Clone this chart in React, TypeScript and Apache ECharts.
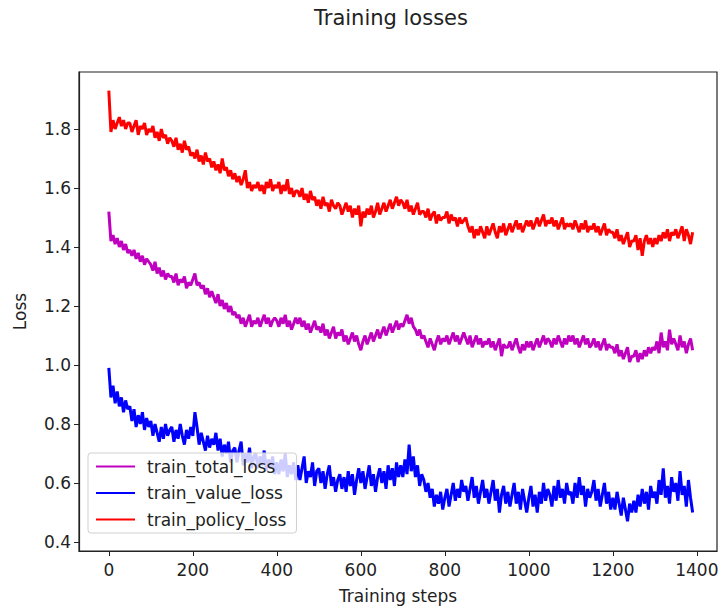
import React, { useEffect, useRef } from "react";
import * as echarts from "echarts";

// sampled every 5 training steps, starting at step 0
const STEP = 5;

const policyLoss = [
  1.93, 1.79, 1.83, 1.80, 1.82, 1.84, 1.81, 1.83, 1.80, 1.82,
  1.82, 1.79, 1.81, 1.83, 1.78, 1.81, 1.80, 1.82, 1.78, 1.80,
  1.79, 1.81, 1.77, 1.79, 1.76, 1.80, 1.77, 1.78, 1.75, 1.77,
  1.76, 1.74, 1.77, 1.73, 1.75, 1.72, 1.76, 1.73, 1.74, 1.71,
  1.72, 1.70, 1.73, 1.69, 1.71, 1.68, 1.72, 1.69, 1.70, 1.67,
  1.69, 1.66, 1.68, 1.65, 1.70, 1.66, 1.67, 1.64, 1.66, 1.63,
  1.65, 1.62, 1.64, 1.61, 1.63, 1.66, 1.60, 1.62, 1.59, 1.61,
  1.60, 1.62, 1.59, 1.61, 1.58, 1.62, 1.60, 1.63, 1.59, 1.61,
  1.60, 1.62, 1.58, 1.61, 1.59, 1.63, 1.58, 1.60, 1.57, 1.59,
  1.59, 1.57, 1.60, 1.56, 1.58, 1.55, 1.59, 1.56, 1.57, 1.54,
  1.56, 1.53, 1.57, 1.54, 1.55, 1.52, 1.56, 1.54, 1.53, 1.55,
  1.54, 1.51, 1.53, 1.55, 1.52, 1.54, 1.50, 1.53, 1.51, 1.54,
  1.47, 1.52, 1.50, 1.53, 1.51, 1.54, 1.50, 1.52, 1.55, 1.51,
  1.53, 1.55, 1.52, 1.54, 1.56, 1.53, 1.55, 1.57, 1.54, 1.56,
  1.55, 1.53, 1.56, 1.52, 1.54, 1.51, 1.53, 1.55, 1.51, 1.52,
  1.52, 1.50, 1.53, 1.49, 1.51, 1.52, 1.48, 1.51, 1.49, 1.50,
  1.50, 1.52, 1.48, 1.51, 1.49, 1.50, 1.47, 1.50, 1.48, 1.49,
  1.50, 1.47, 1.45, 1.47, 1.43, 1.46, 1.44, 1.47, 1.45, 1.43,
  1.47, 1.44, 1.46, 1.48, 1.45, 1.43, 1.47, 1.45, 1.48, 1.44,
  1.46, 1.48, 1.45, 1.47, 1.49, 1.46, 1.48, 1.45, 1.47, 1.49,
  1.47, 1.49, 1.46, 1.48, 1.50, 1.47, 1.49, 1.51, 1.47, 1.49,
  1.48, 1.50, 1.47, 1.49, 1.46, 1.48, 1.50, 1.46, 1.48, 1.47,
  1.48, 1.46, 1.49, 1.47, 1.45, 1.48, 1.46, 1.49, 1.45, 1.47,
  1.46, 1.48, 1.45, 1.47, 1.44, 1.46, 1.48, 1.44, 1.46, 1.45,
  1.45, 1.43, 1.46, 1.42, 1.44, 1.41, 1.43, 1.45, 1.40, 1.42,
  1.42, 1.44, 1.39, 1.43, 1.37, 1.42, 1.44, 1.41, 1.43, 1.40,
  1.43, 1.41, 1.44, 1.42, 1.45, 1.43, 1.46, 1.42, 1.45, 1.44,
  1.46, 1.43, 1.45, 1.47, 1.42, 1.46, 1.44, 1.41, 1.45,
];

const totalLoss = [
  1.52, 1.42, 1.44, 1.41, 1.43, 1.40, 1.42, 1.39, 1.41, 1.38,
  1.39, 1.37, 1.39, 1.36, 1.38, 1.35, 1.37, 1.34, 1.36, 1.35,
  1.34, 1.32, 1.35, 1.31, 1.33, 1.30, 1.32, 1.29, 1.31, 1.30,
  1.30, 1.28, 1.31, 1.27, 1.29, 1.28, 1.30, 1.26, 1.28, 1.27,
  1.29, 1.31, 1.27, 1.28, 1.26, 1.27, 1.24, 1.26, 1.23, 1.25,
  1.23, 1.21, 1.24, 1.20, 1.22, 1.19, 1.21, 1.18, 1.20, 1.17,
  1.18, 1.16, 1.17, 1.14, 1.16, 1.13, 1.15, 1.17, 1.13, 1.15,
  1.14, 1.16, 1.13, 1.15, 1.17, 1.14, 1.16, 1.13, 1.15, 1.16,
  1.15, 1.13, 1.16, 1.14, 1.17, 1.13, 1.15, 1.12, 1.14, 1.16,
  1.14, 1.16, 1.13, 1.15, 1.12, 1.14, 1.11, 1.13, 1.15, 1.12,
  1.13, 1.11, 1.14, 1.10, 1.12, 1.09, 1.11, 1.13, 1.09, 1.11,
  1.10, 1.12, 1.08, 1.10, 1.07, 1.09, 1.11, 1.08, 1.10, 1.07,
  1.05, 1.08, 1.10, 1.07, 1.09, 1.11, 1.08, 1.10, 1.12, 1.09,
  1.11, 1.13, 1.10, 1.12, 1.14, 1.11, 1.13, 1.15, 1.12, 1.14,
  1.13, 1.15, 1.17, 1.14, 1.16, 1.13, 1.12, 1.10, 1.12, 1.09,
  1.10, 1.08, 1.06, 1.09, 1.07, 1.05, 1.08, 1.10, 1.07, 1.09,
  1.08, 1.10, 1.07, 1.09, 1.11, 1.08, 1.10, 1.07, 1.09, 1.11,
  1.09, 1.07, 1.10, 1.06, 1.08, 1.10, 1.07, 1.09, 1.06, 1.08,
  1.07, 1.09, 1.06, 1.08, 1.05, 1.07, 1.09, 1.03, 1.07, 1.06,
  1.06, 1.08, 1.05, 1.07, 1.09, 1.06, 1.04, 1.07, 1.05, 1.08,
  1.06, 1.08, 1.05, 1.07, 1.09, 1.06, 1.08, 1.10, 1.07, 1.09,
  1.08, 1.06, 1.09, 1.07, 1.10, 1.08, 1.06, 1.09, 1.07, 1.10,
  1.08, 1.10, 1.07, 1.09, 1.06, 1.08, 1.10, 1.07, 1.09, 1.06,
  1.07, 1.09, 1.06, 1.08, 1.05, 1.07, 1.09, 1.05, 1.07, 1.06,
  1.06, 1.04, 1.07, 1.03, 1.05, 1.02, 1.04, 1.06, 1.01, 1.03,
  1.03, 1.05, 1.01, 1.04, 1.02, 1.05, 1.03, 1.06, 1.04, 1.06,
  1.05, 1.08, 1.04, 1.11, 1.06, 1.08, 1.05, 1.12, 1.07, 1.09,
  1.07, 1.05, 1.10, 1.06, 1.08, 1.04, 1.07, 1.09, 1.05,
];

const valueLoss = [
  0.99, 0.89, 0.93, 0.87, 0.91, 0.86, 0.89, 0.84, 0.88, 0.85,
  0.86, 0.81, 0.85, 0.79, 0.83, 0.80, 0.84, 0.78, 0.82, 0.79,
  0.81, 0.76, 0.80, 0.77, 0.74, 0.79, 0.75, 0.80, 0.76, 0.78,
  0.79, 0.74, 0.78, 0.75, 0.80, 0.76, 0.73, 0.78, 0.75, 0.79,
  0.76, 0.84, 0.79, 0.73, 0.77, 0.74, 0.71, 0.76, 0.72, 0.75,
  0.73, 0.77, 0.71, 0.75, 0.69, 0.73, 0.70, 0.74, 0.67, 0.71,
  0.72, 0.67, 0.71, 0.74, 0.66, 0.70, 0.67, 0.72, 0.65, 0.69,
  0.70, 0.65, 0.69, 0.66, 0.71, 0.64, 0.68, 0.65, 0.69, 0.63,
  0.67, 0.63, 0.68, 0.64, 0.70, 0.62, 0.66, 0.63, 0.67, 0.61,
  0.66, 0.61, 0.65, 0.69, 0.60, 0.64, 0.62, 0.67, 0.59, 0.64,
  0.65, 0.60, 0.64, 0.58, 0.63, 0.66, 0.59, 0.62, 0.57, 0.61,
  0.63, 0.58, 0.62, 0.57, 0.64, 0.59, 0.63, 0.56, 0.61, 0.65,
  0.60, 0.64, 0.58, 0.62, 0.66, 0.59, 0.63, 0.57, 0.62, 0.65,
  0.60, 0.64, 0.58, 0.66, 0.61, 0.65, 0.59, 0.67, 0.62, 0.66,
  0.62, 0.68, 0.63, 0.73, 0.64, 0.69, 0.62, 0.66, 0.59, 0.63,
  0.61, 0.57, 0.60, 0.55, 0.58, 0.52, 0.56, 0.53, 0.57, 0.51,
  0.55, 0.58, 0.52, 0.56, 0.60, 0.54, 0.58, 0.55, 0.61, 0.57,
  0.59, 0.54, 0.58, 0.62, 0.55, 0.59, 0.53, 0.57, 0.61, 0.55,
  0.58, 0.53, 0.57, 0.61, 0.54, 0.58, 0.50, 0.56, 0.59, 0.53,
  0.57, 0.52, 0.56, 0.60, 0.53, 0.57, 0.51, 0.58, 0.54, 0.50,
  0.55, 0.59, 0.52, 0.56, 0.50, 0.57, 0.53, 0.60, 0.54, 0.58,
  0.56, 0.52, 0.59, 0.54, 0.61, 0.55, 0.58, 0.53, 0.60, 0.56,
  0.57, 0.53, 0.60, 0.55, 0.62, 0.56, 0.59, 0.52, 0.58, 0.55,
  0.57, 0.61, 0.54, 0.58, 0.52, 0.56, 0.60, 0.53, 0.57, 0.51,
  0.55, 0.51, 0.57, 0.53, 0.49, 0.55, 0.51, 0.47, 0.53, 0.50,
  0.54, 0.50, 0.56, 0.52, 0.58, 0.53, 0.57, 0.51, 0.59, 0.55,
  0.57, 0.53, 0.61, 0.56, 0.65, 0.55, 0.59, 0.53, 0.62, 0.57,
  0.60, 0.54, 0.64, 0.56, 0.59, 0.52, 0.61, 0.55, 0.50,
];

const xTicks = [0, 200, 400, 600, 800, 1000, 1200, 1400];
const yTicks = [0.4, 0.6, 0.8, 1.0, 1.2, 1.4, 1.6, 1.8];

const seriesNames = ["train_total_loss", "train_value_loss", "train_policy_loss"];
const seriesColors = ["#bf00bf", "#0000ff", "#ff0000"];

const FONT = "DejaVu Sans";
const TEXT = "#222222";

function toPoints(values: number[]) {
  return values.map((v, i) => [i * STEP, v]);
}

export default function App() {
  const ref = useRef<HTMLDivElement>(null);

  useEffect(() => {
    document.body.style.margin = "0";
    if (!ref.current) return;
    const chart = echarts.init(ref.current, null, { renderer: "svg" });
    const seriesValues = [totalLoss, valueLoss, policyLoss];
    chart.setOption({
      animation: false,
      backgroundColor: "#ffffff",
      title: {
        text: "Training losses",
        left: 314,
        top: 7,
        padding: 0,
        textStyle: { fontFamily: FONT, fontSize: 21, fontWeight: "normal", color: TEXT },
      },
      grid: {
        left: 79,
        right: 1,
        top: 72,
        bottom: 57,
        show: true,
        borderColor: "#222",
        borderWidth: 1.2,
        outerBoundsMode: "none",
        containLabel: false,
      },
      legend: {
        orient: "vertical",
        left: 88,
        top: 453,
        padding: [5, 10, 5, 8],
        itemGap: 9.5,
        itemWidth: 39,
        itemHeight: 2,
        icon: "rect",
        backgroundColor: "rgba(255,255,255,0.8)",
        borderColor: "#d0d0d0",
        borderWidth: 1,
        borderRadius: 3,
        data: seriesNames,
        textStyle: { fontFamily: FONT, fontSize: 17, color: TEXT, padding: [0, 0, 0, 7] },
      },
      xAxis: {
        type: "value",
        min: -71,
        max: 1448,
        name: "Training steps",
        nameLocation: "middle",
        nameGap: 36,
        nameTextStyle: { fontFamily: FONT, fontSize: 17, color: TEXT },
        splitLine: { show: false },
        axisLine: { show: true, onZero: false, lineStyle: { color: "#222", width: 1.2 } },
        axisTick: { show: true, customValues: xTicks, length: 5, lineStyle: { color: "#222" } },
        axisLabel: {
          customValues: xTicks,
          fontFamily: FONT,
          fontSize: 17,
          color: TEXT,
          margin: 10,
          formatter: (v: number) => String(v),
        },
      },
      yAxis: {
        type: "value",
        min: 0.3695,
        max: 1.9932,
        name: "Loss",
        nameLocation: "middle",
        nameGap: 51,
        nameTextStyle: { fontFamily: FONT, fontSize: 17, color: TEXT },
        splitLine: { show: false },
        axisLine: { show: true, onZero: false, lineStyle: { color: "#222", width: 1.2 } },
        axisTick: { show: true, customValues: yTicks, length: 5, lineStyle: { color: "#222" } },
        axisLabel: {
          customValues: yTicks,
          fontFamily: FONT,
          fontSize: 17,
          color: TEXT,
          margin: 8,
          formatter: (v: number) => v.toFixed(1),
        },
      },
      series: seriesNames.map((name, k) => ({
        name,
        type: "line",
        data: toPoints(seriesValues[k]),
        showSymbol: false,
        symbol: "none",
        color: seriesColors[k],
        lineStyle: { color: seriesColors[k], width: 3 },
      })),
    });
    return () => chart.dispose();
  }, []);

  return (
    <div
      ref={ref}
      style={{ position: "absolute", left: 0, top: 0, width: 718, height: 608 }}
    />
  );
}
